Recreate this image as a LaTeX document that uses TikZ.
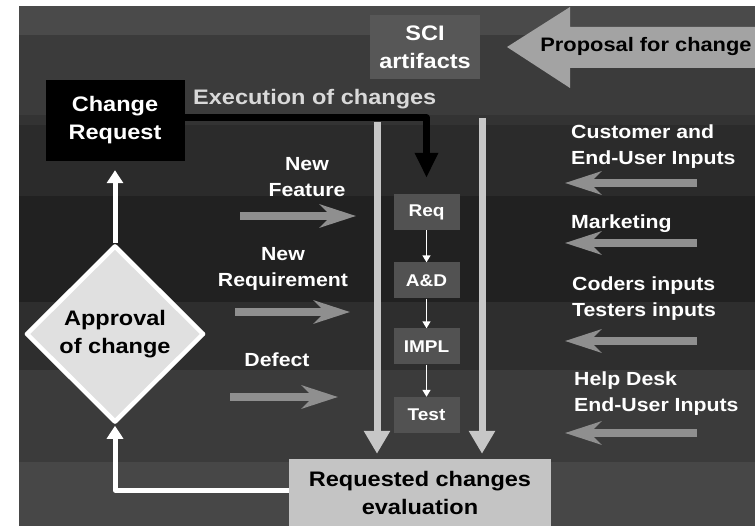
\documentclass[tikz,border=0pt]{standalone}
\usepackage{fontspec}
\setmainfont[FakeStretch=1.12]{Liberation Sans}
\usepackage{tikz}
\usetikzlibrary{arrows.meta,shapes.geometric}
\newcommand{\BarColor}{black!22}
\newcommand{\InColor}{black!44}
\newcommand{\BoxColor}{black!68}
\newcommand{\BigText}{\fontsize{21}{28}\selectfont\bfseries}
\newcommand{\MidText}{\fontsize{19}{26}\selectfont\bfseries}
\newcommand{\SmallText}{\fontsize{17}{20}\selectfont\bfseries}

\begin{document}
\begin{tikzpicture}[line join=round,>=Stealth,x=1pt,y=-1pt
  ,procbox/.style={fill=\BoxColor,text=white,minimum width=66pt,minimum height=36pt,inner sep=0pt,font=\SmallText}
  ,inarrow/.style={draw=\InColor,line width=8pt,-{Stealth[length=36pt,width=23pt,inset=11pt]}}
  ,bararrow/.style={draw=\BarColor,line width=7pt,-{Triangle[length=23pt,width=25pt]}}
  ,wharrow/.style={draw=white,line width=5pt,-{Triangle[length=13pt,width=16pt]}}
  ,steparrow/.style={draw=white,line width=1.5pt,-{Triangle[length=7pt,width=8pt]}}
  ,inlabel/.style={text=white,font=\MidText,align=left,inner sep=0pt,anchor=west}]
  \useasboundingbox (0,0) rectangle (755,526);
  \fill[white] (0,0) rectangle (755,526);
  % background bands
  \foreach \ya/\yb/\g in {6/35/71,35/115/77,115/125/80,125/196/83,196/302/87,302/370/82,370/462/77,462/526/72}
  \fill[black!\g] (19,\ya) rectangle (755,\yb);
  % top row
  \node[fill=black!66,text=white,minimum width=110pt,minimum height=64pt,inner sep=0pt
    ,align=center,font=\BigText] (sci) at (425,47) {SCI\\artifacts};
  \fill[black!36] (507,47) -- (570,7) -- (570,27) -- (755,27) -- (755,68) -- (570,68)
    -- (570,88) -- cycle;
  \node[font=\fontsize{19.5}{24}\selectfont\bfseries,inner sep=0pt] (proposal) at (646,47) {Proposal for change};
  \node[fill=black,text=white,minimum width=139pt,minimum height=81pt,inner sep=0pt
    ,align=center,font=\BigText] (cr) at (115,120.5) {Change\\Request};
  \node[text=black!15,font=\BigText,inner sep=0pt,anchor=west] (exec) at (193,99) {Execution of changes};
  % process steps
  \node[procbox] (req) at (426.5,212) {Req};
  \node[procbox] (ad) at (426.5,280.5) {A\&D};
  \node[procbox] (impl) at (426.5,346.5) {IMPL};
  \node[procbox] (test) at (426.5,415) {Test};
  \draw[steparrow] (req) -- (ad);
  \draw[steparrow] (ad) -- (impl);
  \draw[steparrow] (impl) -- (test);
  \node[fill=black!23,minimum width=262pt,minimum height=67pt,inner sep=0pt
    ,align=center,font=\BigText] (eval) at (420,492.5) {Requested changes\\evaluation};
  \node[diamond,aspect=1,fill=black!12,draw=white,line width=4.5pt,minimum width=178pt
    ,minimum height=177pt,inner sep=0pt,align=center,font=\BigText] (approval) at (115,334)
    {Approval\\of change};
  % flow
  \draw[line width=7pt,-{Triangle[length=25pt,width=22pt]},shorten >=16pt]
    ([yshift=2.5pt]cr.east) -| (req.north);
  \coordinate (barL) at (377,122);
  \coordinate (barR) at (482,118);
  \draw[bararrow,shorten >=5pt] (barL) -- (barL |- eval.north);
  \draw[bararrow,shorten >=5pt] (barR) -- (barR |- eval.north);
  \draw[wharrow,shorten >=9pt] (approval.north) -- (cr.south);
  \draw[wharrow,shorten >=1pt] ([yshift=2.5pt]eval.west) -| (approval.south);
  % inputs on the left
  \node[text=white,font=\MidText,align=center,inner sep=0pt] (feature) at (307,177) {New\\Feature};
  \node[text=white,font=\MidText,align=center,inner sep=0pt] (newreq) at (283,269) {New\\Requirement};
  \node[text=white,font=\MidText,inner sep=0pt] (defect) at (277,360) {Defect};
  \coordinate (featA) at (240,216); \coordinate (featB) at (356,216);
  \coordinate (nreqA) at (235,312); \coordinate (nreqB) at (350,312);
  \coordinate (defA) at (230,397); \coordinate (defB) at (338,397);
  \draw[inarrow] (featA) -- (featB);
  \draw[inarrow] (nreqA) -- (nreqB);
  \draw[inarrow] (defA) -- (defB);
  % inputs on the right
  \node[inlabel] (customer) at (571,147) {Customer and\\End-User Inputs};
  \node[inlabel] (marketing) at (571,224) {Marketing};
  \node[inlabel] (coders) at (572,299) {Coders inputs\\Testers inputs};
  \node[inlabel] (helpdesk) at (574,394) {Help Desk\\End-User Inputs};
  \foreach \y [count=\i] in {183,243,341,433}{
    \coordinate (srcA\i) at (697,\y);
    \coordinate (srcB\i) at (565,\y);
    \draw[inarrow] (srcA\i) -- (srcB\i);
  }
\end{tikzpicture}
\end{document}
